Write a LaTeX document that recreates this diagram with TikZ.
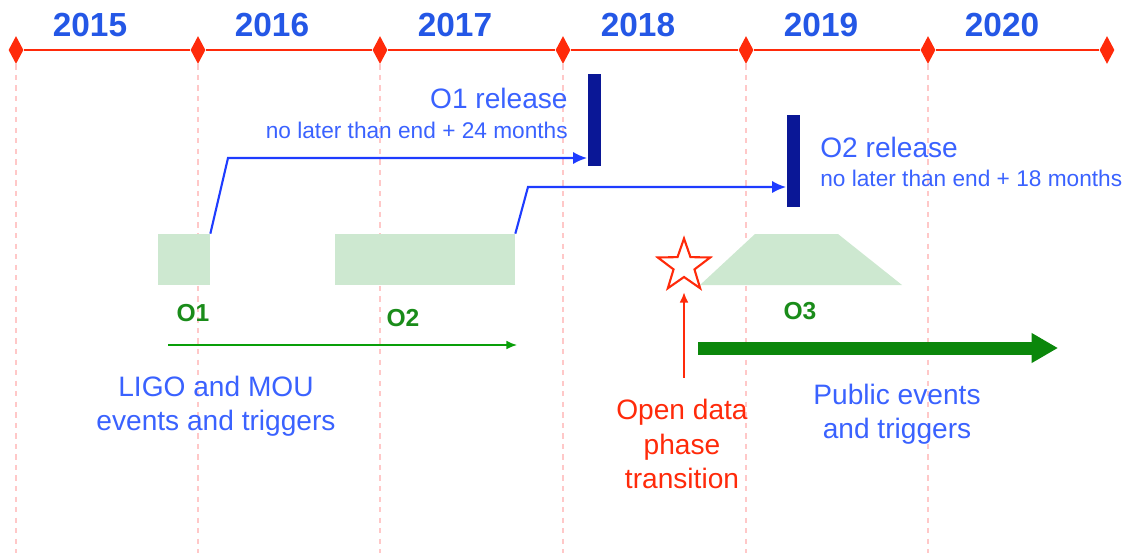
\documentclass[tikz,border=0pt]{standalone}
\usepackage{fontspec}
\setmainfont{Liberation Sans}
\usepackage{tikz}
\usetikzlibrary{shapes.geometric, arrows.meta, positioning}

\definecolor{yearblue}{HTML}{2457E6}
\definecolor{textblue}{HTML}{3A62FF}
\definecolor{linkblue}{HTML}{1E3CFF}
\definecolor{barblue}{HTML}{0A1796}
\definecolor{tlred}{HTML}{FF2A0A}
\definecolor{gridred}{HTML}{FFC8C8}
\definecolor{runfill}{HTML}{CDE8D0}
\definecolor{rungreen}{HTML}{1A8C1A}
\definecolor{arrowgreen}{HTML}{0B870B}

\tikzstyle{year} = [font=\bfseries\fontsize{19}{19}\selectfont, text=yearblue]
\tikzstyle{yeartick} = [diamond, fill=tlred, inner sep=0pt,
minimum width=0.3cm,
minimum height=0.56cm]
\tikzstyle{yearline} = [gridred, dashed, line width=0.6pt]
\tikzstyle{runbox} = [rectangle, fill=runfill, inner sep=0pt, minimum height=1.02cm]
\tikzstyle{runlabel} = [font=\bfseries\fontsize{14}{14}\selectfont, text=rungreen]
\tikzstyle{relbar} = [rectangle, fill=barblue, inner sep=0pt,
minimum width=0.26cm,
minimum height=1.84cm]
\tikzstyle{reltitle} = [font=\fontsize{16}{16}\selectfont, text=textblue, inner sep=0pt]
\tikzstyle{relsub} = [font=\fontsize{12.9}{12.9}\selectfont, text=textblue, inner sep=0pt]
\tikzstyle{note} = [font=\fontsize{16}{19.5}\selectfont, align=center, inner sep=0pt]
\tikzstyle{linkarrow} = [linkblue, line width=1.2pt, -{Latex[length=8pt,width=7pt]}]
\tikzstyle{eventarrow} = [arrowgreen!80!green, line width=0.9pt, -{Latex[length=6pt,width=5pt]}]
\tikzstyle{bigarrow} = [arrowgreen, line width=7.4pt, -{Triangle[length=15pt,width=16pt]}]
\tikzstyle{redarrow} = [tlred, line width=1.1pt, -{Latex[length=6pt,width=5pt]}]

\begin{document}
\begin{tikzpicture}[x=0.02cm, y=-0.02cm]
            \useasboundingbox (0,0) rectangle (1125,552);

            % time axis
            \node (t15) [yeartick] at (16,50) {};
            \node (t16) [yeartick] at (198,50) {};
            \node (t17) [yeartick] at (380,50) {};
            \node (t18) [yeartick] at (563,50) {};
            \node (t19) [yeartick] at (746,50) {};
            \node (t20) [yeartick] at (928,50) {};
            \node (t21) [yeartick] at (1107,50) {};

            \draw [yearline] (t15.south) -- ++(0,490);
            \draw [yearline] (t16.south) -- ++(0,490);
            \draw [yearline] (t17.south) -- ++(0,490);
            \draw [yearline] (t18.south) -- ++(0,490);
            \draw [yearline] (t19.south) -- ++(0,490);
            \draw [yearline] (t20.south) -- ++(0,490);

            \draw [tlred, line width=1.3pt] (t15) -- (t16) -- (t17) -- (t18) -- (t19) -- (t20) -- (t21);

            \node (y15) [year] at (90,25) {2015};
            \node (y16) [year] at (272,25) {2016};
            \node (y17) [year] at (455,25) {2017};
            \node (y18) [year] at (638,25) {2018};
            \node (y19) [year] at (821,25) {2019};
            \node (y20) [year] at (1002,25) {2020};

            % observing runs
            \node (o1) [runbox, minimum width=1.04cm] at (184,259.5) {};
            \node (o2) [runbox, minimum width=3.6cm] at (425,259.5) {};
            \fill [runfill] (700,285) -- (755,234) -- (838,234) -- (902,285) -- cycle;

            \node (o1l) [runlabel] at (193,313) {O1};
            \node (o2l) [runlabel] at (403,318) {O2};
            \node (o3l) [runlabel] at (800,311) {O3};

            % data releases
            \node (rel1) [relbar] at (594,120) {};
            \node (rel2) [relbar] at (793,161) {};

            \node (rel1t) [reltitle, anchor=east] at (568,98) {O1 release};
            \node (rel1s) [relsub, anchor=east] at (568,130) {no later than end + 24 months};
            \node (rel2t) [reltitle, anchor=west] at (820,147) {O2 release};
            \node (rel2s) [relsub, anchor=west] at (820,178) {no later than end + 18 months};

            \coordinate (k1) at (228,158);
            \coordinate (k2) at (528,187);
            \draw [linkarrow] (o1.north east) -- (k1) -- (k1 -| rel1.west);
            \draw [linkarrow] (o2.north east) -- (k2) -- (k2 -| rel2.west);

            % alerts
            \coordinate (e1) at (168,345);
            \coordinate (e2) at (517,345);
            \draw [eventarrow] (e1) -- (e2);
            \node (lmou) [note, text=textblue] at (216,406) {LIGO and MOU\\events and triggers};

            \coordinate (p1) at (698,348);
            \coordinate (p2) at (1058,348);
            \draw [bigarrow] (p1) -- (p2);
            \node (pub) [note, text=textblue] at (897,414) {Public events\\and triggers};

            % transition
            \node (star) [star, star points=5, star point ratio=2.5, draw=tlred, fill=white,
                line width=1.2pt, inner sep=0pt, minimum size=1.1cm] at (684,266) {};
            \node (odt) [note, text=tlred] at (682,444) {Open data\\phase\\transition};
            \coordinate (stip) at (684,292);
            \draw [redarrow] ([yshift=12pt]odt.north -| stip) -- (stip);

        \end{tikzpicture}
\end{document}
